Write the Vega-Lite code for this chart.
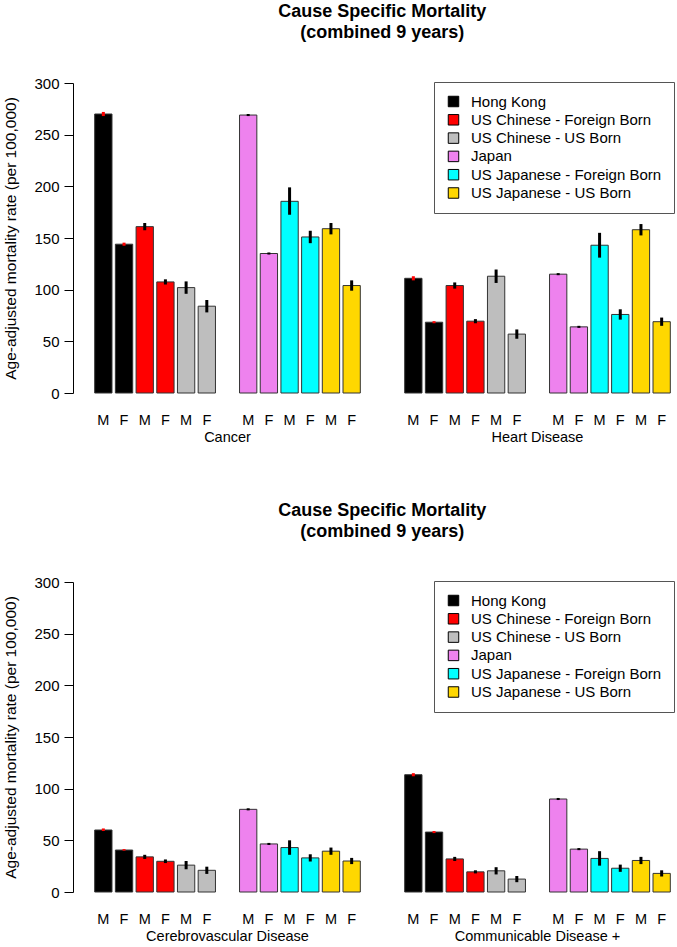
{
  "$schema": "https://vega.github.io/schema/vega-lite/v6.json",
  "background": "white",
  "padding": {"left": 3, "top": 3, "right": 0, "bottom": 3},
  "config": {
    "view": {"stroke": null},
    "font": "Liberation Sans",
    "axis": {"labelFont": "Liberation Sans", "titleFont": "Liberation Sans", "labelColor": "black", "titleColor": "black", "domainColor": "black", "tickColor": "black", "grid": false},
    "legend": {"labelFont": "Liberation Sans"}
  },
  "datasets": {
    "top": [
      {"cause": "Cancer", "group": "Hong Kong", "bar": "HK M", "value": 270, "lo": 268, "hi": 272},
      {"cause": "Cancer", "group": "Hong Kong", "bar": "HK F", "value": 144, "lo": 142.5, "hi": 145.5},
      {"cause": "Cancer", "group": "US Chinese - Foreign Born", "bar": "CF M", "value": 161, "lo": 157.5, "hi": 164.5},
      {"cause": "Cancer", "group": "US Chinese - Foreign Born", "bar": "CF F", "value": 107.5, "lo": 105, "hi": 110},
      {"cause": "Cancer", "group": "US Chinese - US Born", "bar": "CU M", "value": 102, "lo": 96, "hi": 108},
      {"cause": "Cancer", "group": "US Chinese - US Born", "bar": "CU F", "value": 84, "lo": 78, "hi": 90},
      {"cause": "Cancer", "group": "Japan", "bar": "JP M", "value": 269, "lo": 268, "hi": 270},
      {"cause": "Cancer", "group": "Japan", "bar": "JP F", "value": 135, "lo": 134, "hi": 136},
      {"cause": "Cancer", "group": "US Japanese - Foreign Born", "bar": "JF M", "value": 185.5, "lo": 172.5, "hi": 199},
      {"cause": "Cancer", "group": "US Japanese - Foreign Born", "bar": "JF F", "value": 151, "lo": 145, "hi": 157},
      {"cause": "Cancer", "group": "US Japanese - US Born", "bar": "JU M", "value": 159, "lo": 153.5, "hi": 164.5},
      {"cause": "Cancer", "group": "US Japanese - US Born", "bar": "JU F", "value": 104, "lo": 99, "hi": 109},
      {"cause": "Heart Disease", "group": "Hong Kong", "bar": "HK M", "value": 111, "lo": 109, "hi": 113},
      {"cause": "Heart Disease", "group": "Hong Kong", "bar": "HK F", "value": 68.5, "lo": 67.5, "hi": 69.5},
      {"cause": "Heart Disease", "group": "US Chinese - Foreign Born", "bar": "CF M", "value": 104, "lo": 101, "hi": 107},
      {"cause": "Heart Disease", "group": "US Chinese - Foreign Born", "bar": "CF F", "value": 69.5, "lo": 67.5, "hi": 71.5},
      {"cause": "Heart Disease", "group": "US Chinese - US Born", "bar": "CU M", "value": 113, "lo": 106.5, "hi": 119.5},
      {"cause": "Heart Disease", "group": "US Chinese - US Born", "bar": "CU F", "value": 57, "lo": 52.5, "hi": 61.5},
      {"cause": "Heart Disease", "group": "Japan", "bar": "JP M", "value": 115, "lo": 114, "hi": 116},
      {"cause": "Heart Disease", "group": "Japan", "bar": "JP F", "value": 64, "lo": 63, "hi": 65},
      {"cause": "Heart Disease", "group": "US Japanese - Foreign Born", "bar": "JF M", "value": 143, "lo": 131, "hi": 155},
      {"cause": "Heart Disease", "group": "US Japanese - Foreign Born", "bar": "JF F", "value": 76, "lo": 71, "hi": 81},
      {"cause": "Heart Disease", "group": "US Japanese - US Born", "bar": "JU M", "value": 158, "lo": 152.5, "hi": 163.5},
      {"cause": "Heart Disease", "group": "US Japanese - US Born", "bar": "JU F", "value": 69, "lo": 65, "hi": 73}
    ],
    "bottom": [
      {"cause": "Cerebrovascular Disease", "group": "Hong Kong", "bar": "HK M", "value": 60, "lo": 59, "hi": 61.5},
      {"cause": "Cerebrovascular Disease", "group": "Hong Kong", "bar": "HK F", "value": 40.6, "lo": 40, "hi": 41.5},
      {"cause": "Cerebrovascular Disease", "group": "US Chinese - Foreign Born", "bar": "CF M", "value": 34, "lo": 32, "hi": 36},
      {"cause": "Cerebrovascular Disease", "group": "US Chinese - Foreign Born", "bar": "CF F", "value": 29.7, "lo": 28, "hi": 31.5},
      {"cause": "Cerebrovascular Disease", "group": "US Chinese - US Born", "bar": "CU M", "value": 26, "lo": 22, "hi": 30},
      {"cause": "Cerebrovascular Disease", "group": "US Chinese - US Born", "bar": "CU F", "value": 21, "lo": 17.5, "hi": 24.5},
      {"cause": "Cerebrovascular Disease", "group": "Japan", "bar": "JP M", "value": 80, "lo": 79, "hi": 81},
      {"cause": "Cerebrovascular Disease", "group": "Japan", "bar": "JP F", "value": 46.5, "lo": 45.5, "hi": 47.5},
      {"cause": "Cerebrovascular Disease", "group": "US Japanese - Foreign Born", "bar": "JF M", "value": 43, "lo": 36, "hi": 50},
      {"cause": "Cerebrovascular Disease", "group": "US Japanese - Foreign Born", "bar": "JF F", "value": 33, "lo": 29.5, "hi": 36.5},
      {"cause": "Cerebrovascular Disease", "group": "US Japanese - US Born", "bar": "JU M", "value": 39.5, "lo": 36, "hi": 43},
      {"cause": "Cerebrovascular Disease", "group": "US Japanese - US Born", "bar": "JU F", "value": 30, "lo": 27, "hi": 33},
      {"cause": "Communicable Disease +", "group": "Hong Kong", "bar": "HK M", "value": 113.5, "lo": 112, "hi": 115},
      {"cause": "Communicable Disease +", "group": "Hong Kong", "bar": "HK F", "value": 58, "lo": 57, "hi": 59},
      {"cause": "Communicable Disease +", "group": "US Chinese - Foreign Born", "bar": "CF M", "value": 32, "lo": 30, "hi": 34},
      {"cause": "Communicable Disease +", "group": "US Chinese - Foreign Born", "bar": "CF F", "value": 19.5, "lo": 18, "hi": 21},
      {"cause": "Communicable Disease +", "group": "US Chinese - US Born", "bar": "CU M", "value": 20.5, "lo": 17, "hi": 24},
      {"cause": "Communicable Disease +", "group": "US Chinese - US Born", "bar": "CU F", "value": 12.5, "lo": 9.5, "hi": 15.5},
      {"cause": "Communicable Disease +", "group": "Japan", "bar": "JP M", "value": 90, "lo": 89, "hi": 91},
      {"cause": "Communicable Disease +", "group": "Japan", "bar": "JP F", "value": 41.5, "lo": 40.5, "hi": 42.5},
      {"cause": "Communicable Disease +", "group": "US Japanese - Foreign Born", "bar": "JF M", "value": 32.5, "lo": 25.5, "hi": 39.5},
      {"cause": "Communicable Disease +", "group": "US Japanese - Foreign Born", "bar": "JF F", "value": 23, "lo": 19.5, "hi": 26.5},
      {"cause": "Communicable Disease +", "group": "US Japanese - US Born", "bar": "JU M", "value": 30.5, "lo": 27, "hi": 34},
      {"cause": "Communicable Disease +", "group": "US Japanese - US Born", "bar": "JU F", "value": 18, "lo": 15, "hi": 21}
    ]
  },
  "vconcat": [
    {
      "data": {"name": "top"},
      "title": {"text": ["Cause Specific Mortality", "(combined 9 years)"], "fontSize": 18, "fontWeight": "bold", "font": "Liberation Sans", "anchor": "middle", "dx": 43, "offset": 34, "lineHeight": 21, "color": "black"},
      "facet": {"column": {"field": "cause", "type": "nominal", "sort": ["Cancer", "Heart Disease"], "header": {"title": null, "labelOrient": "bottom", "labelFontSize": 14.5, "labelFont": "Liberation Sans", "labelColor": "black", "labelPadding": 4}}},
      "spacing": 41,
      "spec": {
        "width": 269,
        "height": 310,
        "encoding": {
          "x": {"field": "bar", "type": "nominal", "scale": {"domain": ["HK M", "HK F", "CF M", "CF F", "CU M", "CU F", "gap", "JP M", "JP F", "JF M", "JF F", "JU M", "JU F"], "paddingInner": 0.164, "paddingOuter": 0.082}, "axis": {"title": null, "domain": false, "ticks": false, "labelAngle": 0, "labelFontSize": 14.5, "labelPadding": 19, "labelExpr": "datum.value == 'gap' ? '' : substring(datum.value, 3)"}}
        },
        "layer": [
          {
            "mark": {"type": "bar", "stroke": "#333333", "strokeWidth": 1},
            "encoding": {
              "y": {"field": "value", "type": "quantitative", "scale": {"domain": [0, 300], "nice": false}, "axis": {"title": "Age-adjusted mortality rate (per 100,000)", "titleFontSize": 15.5, "titleFontWeight": "normal", "titlePadding": 15, "labelFontSize": 15, "offset": 20, "tickSize": 9, "labelPadding": 5, "values": [0, 25, 50, 75, 100, 125, 150, 175, 200, 225, 250, 275, 300], "labelExpr": "datum.value % 50 == 0 ? datum.label : ''"}},
              "color": {"field": "group", "type": "nominal", "scale": {"domain": ["Hong Kong", "US Chinese - Foreign Born", "US Chinese - US Born", "Japan", "US Japanese - Foreign Born", "US Japanese - US Born"], "range": ["#000000", "#FF0000", "#BEBEBE", "#EE82EE", "#00FFFF", "#FFD700"]}, "legend": {"title": null, "orient": "none", "legendX": 341, "legendY": -1, "symbolType": "square", "symbolSize": 110, "symbolStrokeColor": "black", "symbolStrokeWidth": 1, "labelFontSize": 15, "labelColor": "black", "labelOffset": 10, "rowPadding": 2.3, "padding": 12, "strokeColor": "#555555", "fillColor": "white", "labelLimit": 300}}
            }
          },
          {
            "mark": {"type": "rule", "strokeWidth": 3},
            "encoding": {
              "y": {"field": "lo", "type": "quantitative"},
              "y2": {"field": "hi"},
              "color": {"condition": {"test": "datum.group === 'Hong Kong'", "value": "#FF0000"}, "value": "black"}
            }
          }
        ]
      }
    },
    {
      "data": {"name": "bottom"},
      "title": {"text": ["Cause Specific Mortality", "(combined 9 years)"], "fontSize": 18, "fontWeight": "bold", "font": "Liberation Sans", "anchor": "middle", "dx": 43, "offset": 34, "lineHeight": 21, "color": "black"},
      "facet": {"column": {"field": "cause", "type": "nominal", "sort": ["Cerebrovascular Disease", "Communicable Disease +"], "header": {"title": null, "labelOrient": "bottom", "labelFontSize": 14.5, "labelFont": "Liberation Sans", "labelColor": "black", "labelPadding": 4}}},
      "spacing": 41,
      "spec": {
        "width": 269,
        "height": 310,
        "encoding": {
          "x": {"field": "bar", "type": "nominal", "scale": {"domain": ["HK M", "HK F", "CF M", "CF F", "CU M", "CU F", "gap", "JP M", "JP F", "JF M", "JF F", "JU M", "JU F"], "paddingInner": 0.164, "paddingOuter": 0.082}, "axis": {"title": null, "domain": false, "ticks": false, "labelAngle": 0, "labelFontSize": 14.5, "labelPadding": 19, "labelExpr": "datum.value == 'gap' ? '' : substring(datum.value, 3)"}}
        },
        "layer": [
          {
            "mark": {"type": "bar", "stroke": "#333333", "strokeWidth": 1},
            "encoding": {
              "y": {"field": "value", "type": "quantitative", "scale": {"domain": [0, 300], "nice": false}, "axis": {"title": "Age-adjusted mortality rate (per 100,000)", "titleFontSize": 15.5, "titleFontWeight": "normal", "titlePadding": 15, "labelFontSize": 15, "offset": 20, "tickSize": 9, "labelPadding": 5, "values": [0, 25, 50, 75, 100, 125, 150, 175, 200, 225, 250, 275, 300], "labelExpr": "datum.value % 50 == 0 ? datum.label : ''"}},
              "color": {"field": "group", "type": "nominal", "scale": {"domain": ["Hong Kong", "US Chinese - Foreign Born", "US Chinese - US Born", "Japan", "US Japanese - Foreign Born", "US Japanese - US Born"], "range": ["#000000", "#FF0000", "#BEBEBE", "#EE82EE", "#00FFFF", "#FFD700"]}, "legend": {"title": null, "orient": "none", "legendX": 341, "legendY": -1, "symbolType": "square", "symbolSize": 110, "symbolStrokeColor": "black", "symbolStrokeWidth": 1, "labelFontSize": 15, "labelColor": "black", "labelOffset": 10, "rowPadding": 2.3, "padding": 12, "strokeColor": "#555555", "fillColor": "white", "labelLimit": 300}}
            }
          },
          {
            "mark": {"type": "rule", "strokeWidth": 3},
            "encoding": {
              "y": {"field": "lo", "type": "quantitative"},
              "y2": {"field": "hi"},
              "color": {"condition": {"test": "datum.group === 'Hong Kong'", "value": "#FF0000"}, "value": "black"}
            }
          }
        ]
      }
    }
  ],
  "spacing": 58,
  "resolve": {"legend": {"color": "independent"}}
}
